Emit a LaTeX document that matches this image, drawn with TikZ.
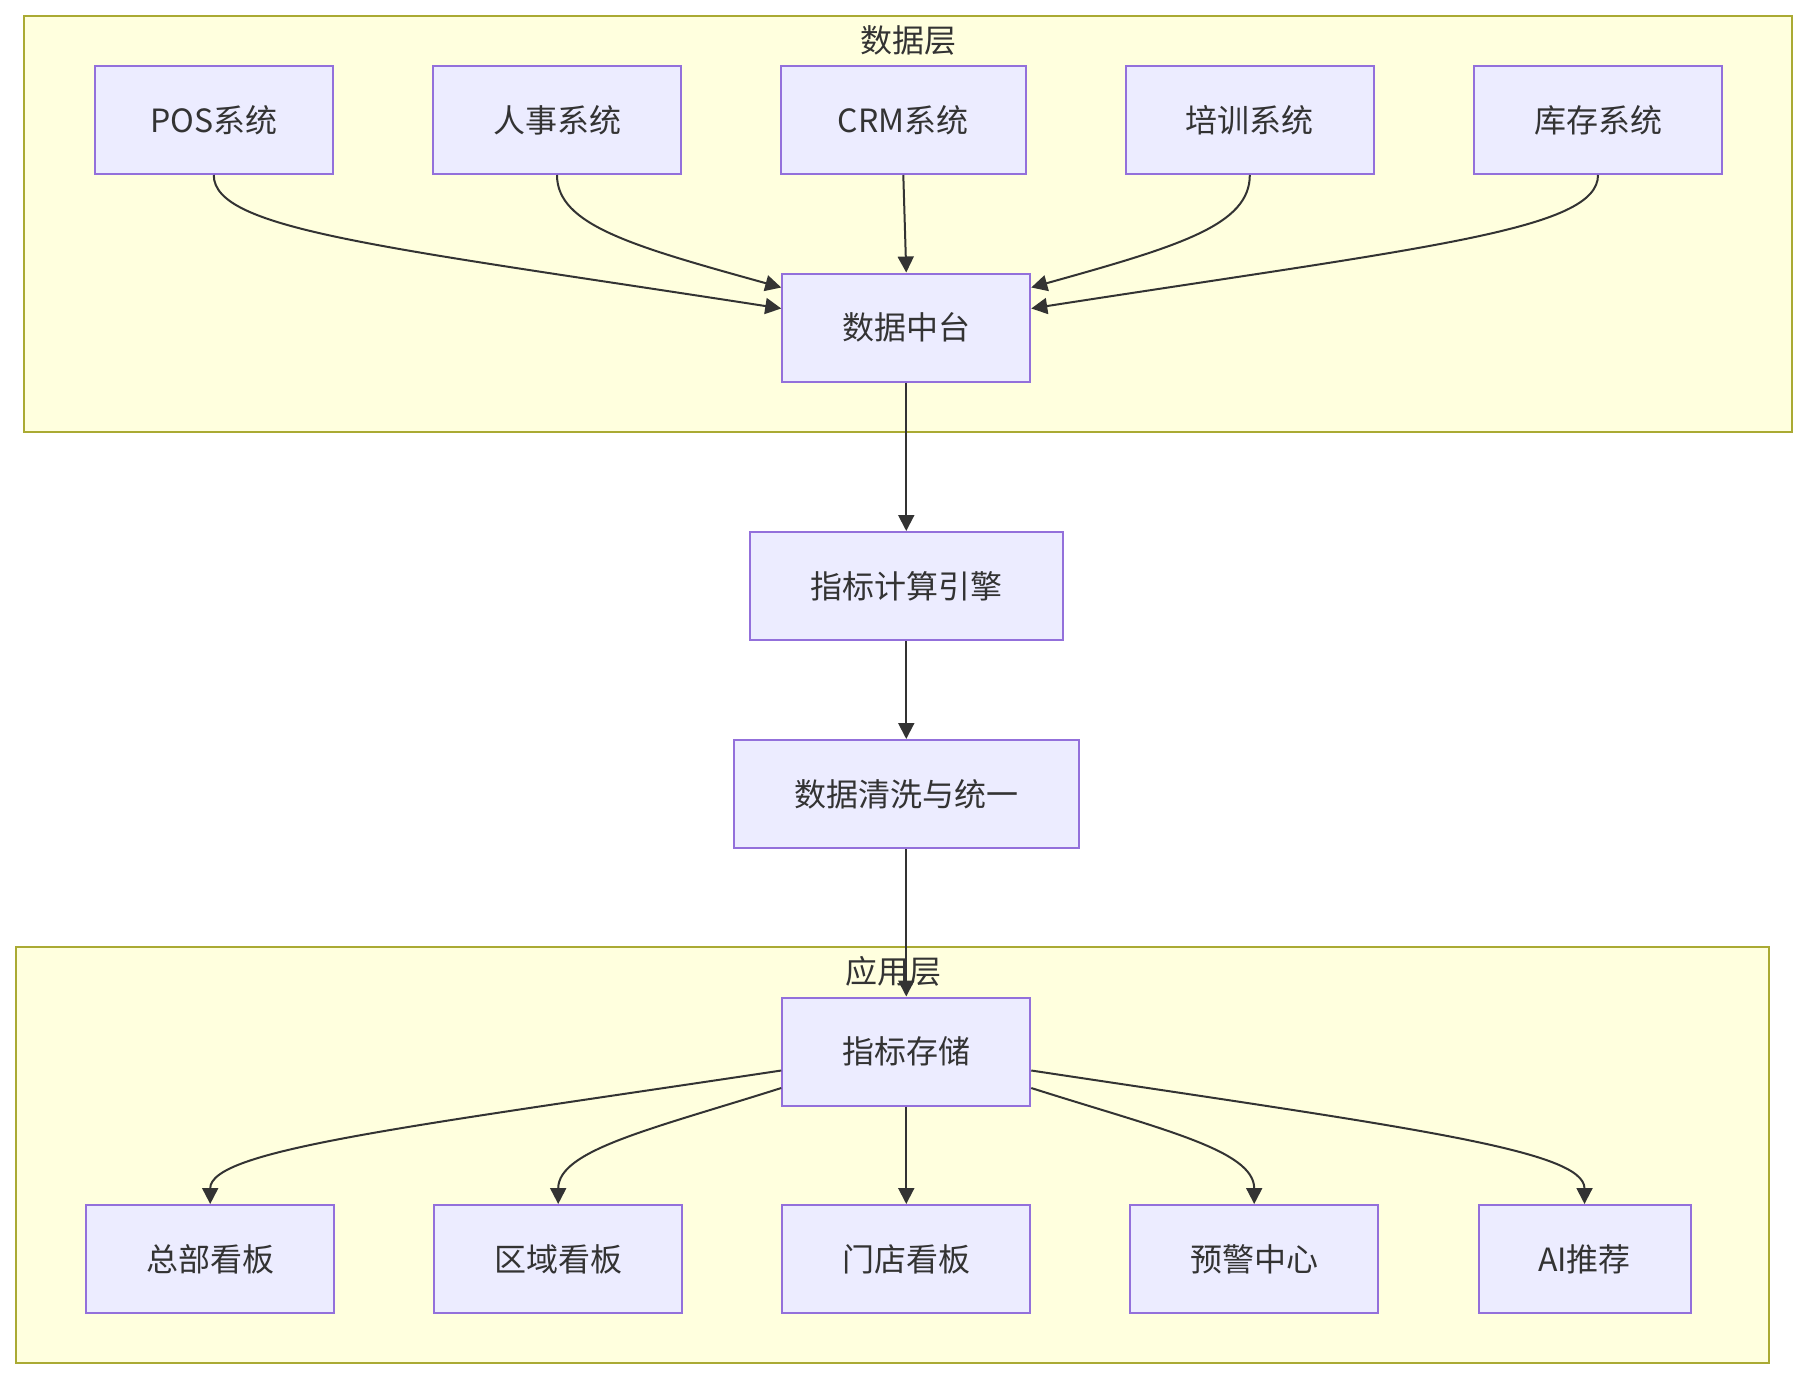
\documentclass[tikz,border=0pt]{standalone}
\usepackage{fontspec}
\setmainfont{Noto Sans CJK SC}
\usetikzlibrary{arrows.meta}
\definecolor{boxfill}{HTML}{ECECFF}
\definecolor{boxline}{HTML}{9370DB}
\definecolor{clfill}{HTML}{FFFFDE}
\definecolor{clline}{HTML}{AAAA33}
\definecolor{ink}{HTML}{333333}
\tikzset{
  box/.style={draw=boxline, fill=boxfill, line width=1pt, inner sep=0pt,
    minimum height=54pt, font=\fontsize{16pt}{19pt}\selectfont, text=ink},
  cluster/.style={draw=clline, fill=clfill, line width=1pt},
  cltitle/.style={font=\fontsize{16pt}{19pt}\selectfont, text=ink, inner sep=0pt},
  edge/.style={draw=ink, line width=1pt, -{Triangle[length=8pt,width=8pt]}}
}
\begin{document}
\begin{tikzpicture}[x=0.5pt,y=-0.5pt]
\useasboundingbox (0,0) rectangle (1807,1380);
% clusters
\draw[cluster] (24,16) rectangle (1792,432);
\node[cltitle] (t1) at (908,40) {数据层};
\draw[cluster] (16,947) rectangle (1769,1363);
\node[cltitle] (t2) at (893,971) {应用层};
% top row
\node[box, minimum width=119.25pt] (pos) at (213.75,120) {POS系统};
\node[box, minimum width=124pt] (hr) at (557,120) {人事系统};
\node[box, minimum width=122.3pt] (crm) at (903.3,120) {CRM系统};
\node[box, minimum width=123.8pt] (train) at (1249.8,120) {培训系统};
\node[box, minimum width=124pt] (inv) at (1598,120) {库存系统};
\node[box, minimum width=124pt] (hub) at (906.25,327.5) {数据中台};
\node[box, minimum width=156.25pt] (calc) at (906.25,586) {指标计算引擎};
\node[box, minimum width=172.5pt] (clean) at (906.25,794) {数据清洗与统一};
\node[box, minimum width=124pt] (store) at (906.25,1051.5) {指标存储};
% bottom row
\node[box, minimum width=124pt] (hq) at (210.2,1259) {总部看板};
\node[box, minimum width=124pt] (reg) at (558.2,1259) {区域看板};
\node[box, minimum width=124pt] (shop) at (906.25,1259) {门店看板};
\node[box, minimum width=124pt] (warn) at (1254.2,1259) {预警中心};
\node[box, minimum width=106pt] (ai) at (1584.5,1259) {AI推荐};
% edges top fan
\draw[edge] (pos.south) .. controls (213.75,230) and (382,246.6) .. ([yshift=9.5pt]hub.west);
\draw[edge] (hr.south) .. controls (557,225) and (632,246) .. ([yshift=20pt]hub.west);
\draw[edge] (crm.south) -- (hub.north);
\draw[edge] (train.south) .. controls (1249.8,225) and (1180,246) .. ([yshift=20pt]hub.east);
\draw[edge] (inv.south) .. controls (1598,230) and (1430,246.6) .. ([yshift=9.5pt]hub.east);
% vertical chain
\draw[edge] (hub.south) -- (calc.north);
\draw[edge] (calc.south) -- (clean.north);
\draw[edge] (clean.south) -- (store.north);
% bottom fan
\draw[edge] ([yshift=-9.5pt]store.west) .. controls (402,1127.6) and (210.2,1150) .. (hq.north);
\draw[edge] ([yshift=-18.25pt]store.west) .. controls (652,1129) and (558.2,1150) .. (reg.north);
\draw[edge] (store.south) -- (shop.north);
\draw[edge] ([yshift=-18.25pt]store.east) .. controls (1160,1129) and (1254.2,1150) .. (warn.north);
\draw[edge] ([yshift=-9.5pt]store.east) .. controls (1410,1127.6) and (1584.5,1150) .. (ai.north);
\end{tikzpicture}
\end{document}
